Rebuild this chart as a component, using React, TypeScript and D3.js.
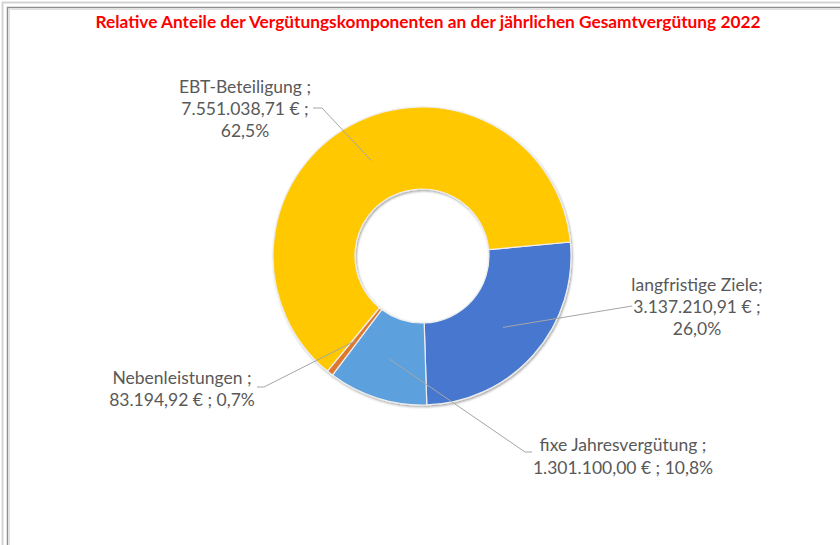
import React from "react";
import * as d3 from "d3";

const categories = ["langfristige Ziele", "fixe Jahresvergütung", "Nebenleistungen", "EBT-Beteiligung"];
const amounts = [3137210.91, 1301100.0, 83194.92, 7551038.71];
const amountLabels = ["3.137.210,91 €", "1.301.100,00 €", "83.194,92 €", "7.551.038,71 €"];
const percentLabels = ["26,0%", "10,8%", "0,7%", "62,5%"];
const colors = ["#4677CF", "#5DA0DE", "#DE782F", "#FFC800"];
const title = "Relative Anteile der Vergütungskomponenten an der jährlichen Gesamtvergütung 2022";

const W = 840;
const H = 545;
const cx = 422;
const cy = 256;
const outerR = 149;
const innerR = 67;
const startDeg = 84.6;

// label layout: lines, center x, first baseline, leader start points
const labelLayout = [
  {
    lines: (i: number) => [categories[i] + ";", amountLabels[i] + " ;", percentLabels[i]],
    x: 697, y: 291, dy: 22,
    leader: [[632, 306]] as [number, number][],
  },
  {
    lines: (i: number) => [categories[i] + " ;", amountLabels[i] + " ; " + percentLabels[i]],
    x: 623, y: 451, dy: 23,
    leader: [[532, 452], [525, 452]] as [number, number][],
  },
  {
    lines: (i: number) => [categories[i] + " ;", amountLabels[i] + " ; " + percentLabels[i]],
    x: 182, y: 384, dy: 22,
    leader: [[257, 387], [264, 387]] as [number, number][],
  },
  {
    lines: (i: number) => [categories[i] + " ;", amountLabels[i] + " ;", percentLabels[i]],
    x: 245, y: 93, dy: 22,
    leader: [[313, 108], [322, 108]] as [number, number][],
  },
];

export default function App() {
  const pie = d3
    .pie<number>()
    .sort(null)
    .value((d) => d)
    .startAngle((startDeg * Math.PI) / 180)
    .endAngle((startDeg * Math.PI) / 180 + 2 * Math.PI);
  const arcs = pie(amounts);
  const arc = d3.arc<d3.PieArcDatum<number>>().innerRadius(innerR).outerRadius(outerR);
  const line = d3.line();

  return (
    <svg
      width={W}
      height={H}
      viewBox={`0 0 ${W} ${H}`}
      style={{ position: "absolute", left: 0, top: 0, background: "#fff" }}
      fontFamily="Lato, 'Open Sans', sans-serif"
    >
      <defs>
        <filter id="sh" x="-20%" y="-20%" width="140%" height="140%">
          <feDropShadow dx="1" dy="1.5" stdDeviation="1.2" floodColor="#000" floodOpacity="0.35" />
        </filter>
      </defs>
      <rect x={0} y={0} width={W} height={H} fill="#fff" />
      {/* frame */}
      <path d={`M2.5,${H} V2.5 H${W}`} fill="none" stroke="#d4d4d4" strokeWidth={2} />
      <path d={`M7.5,${H} V7.5 H${W}`} fill="none" stroke="#8f8f8f" strokeWidth={1.5} />
      <path d={`M9.5,${H} V9.5 H${W}`} fill="none" stroke="#e0e0e0" strokeWidth={1} />

      <text
        x={428}
        y={28}
        textAnchor="middle"
        fill="#FF0000"
        fontWeight="bold"
        fontSize={17}
        textLength={665}
        lengthAdjust="spacingAndGlyphs"
      >
        {title}
      </text>

      <g transform={`translate(${cx},${cy})`} filter="url(#sh)">
        {arcs.map((a, i) => (
          <path key={i} d={arc(a) || ""} fill={colors[i]} stroke="#eeeeee" strokeWidth={1.2} />
        ))}
      </g>

      {arcs.map((a, i) => {
        const c = arc.centroid(a);
        const pts: [number, number][] = [...labelLayout[i].leader, [cx + c[0], cy + c[1]]];
        return <path key={"l" + i} d={line(pts) || ""} fill="none" stroke="#a6a6a6" strokeWidth={1} />;
      })}

      {arcs.map((a, i) => {
        const L = labelLayout[i];
        return (
          <text key={"t" + i} textAnchor="middle" fill="#595959" fontSize={17.5}>
            {L.lines(i).map((s, j) => (
              <tspan key={j} x={L.x} y={L.y + j * L.dy}>
                {s}
              </tspan>
            ))}
          </text>
        );
      })}
    </svg>
  );
}
